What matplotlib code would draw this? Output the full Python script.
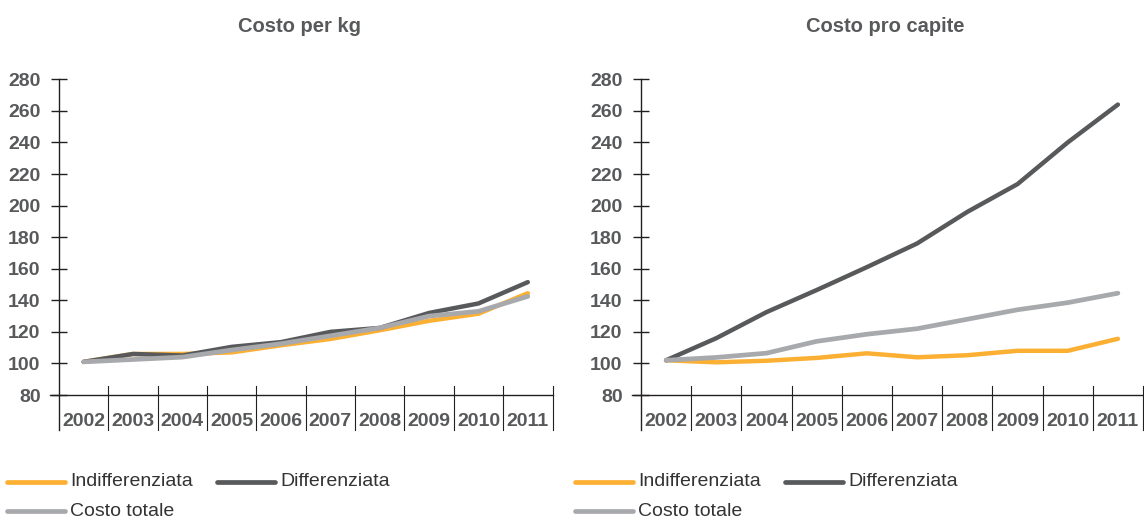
import matplotlib
matplotlib.use("Agg")
import matplotlib.pyplot as plt
from matplotlib.lines import Line2D

plt.rcParams['font.family'] = ['Liberation Sans', 'DejaVu Sans']

# data
years = ['2002', '2003', '2004', '2005', '2006', '2007', '2008', '2009', '2010', '2011']
series_names = ['Indifferenziata', 'Differenziata', 'Costo totale']
titles = ['Costo per kg', 'Costo pro capite']
yticks = [80, 100, 120, 140, 160, 180, 200, 220, 240, 260, 280]

kg_indiff = [101, 106, 106, 107, 111.5, 115.5, 121, 127, 131.5, 144.5]
kg_diff = [101, 106, 105, 110.5, 113.5, 120, 122.5, 132, 138, 151.5]
kg_tot = [101, 102.5, 104, 108.5, 112.5, 117.5, 122.5, 130, 133, 142.5]

pc_indiff = [102, 100.7, 101.7, 103.5, 106.4, 103.9, 105.2, 108, 108, 115.6]
pc_diff = [102, 116, 132.5, 146.5, 161, 176, 196, 213.6, 240, 264]
pc_tot = [102, 103.8, 106.5, 114, 118.5, 122, 128, 134, 138.5, 144.5]

col_orange = '#FBB034'
col_dark = '#58595B'
col_gray = '#A7A9AC'
col_text = '#58595B'
col_axis = '#231F20'

fig = plt.figure(figsize=(11.44, 5.2), dpi=100)

W, H = 1144.0, 520.0
# axes boxes in pixels: left, right, top, bottom
boxes = [(59, 552.5, 79.3, 395), (641, 1143, 79.3, 395)]
data = [(kg_indiff, kg_diff, kg_tot), (pc_indiff, pc_diff, pc_tot)]
title_x = [300, 885]
legend_dx = [0, 568]

for i in range(2):
    l, r, t, b = boxes[i]
    ax = fig.add_axes([l / W, 1 - b / H, (r - l) / W, (b - t) / H])
    ax.set_xlim(-0.5, len(years) - 0.5)
    ax.set_ylim(80, 280)
    for s in ax.spines.values():
        s.set_visible(False)

    px_per_unit = (b - t) / 200.0
    px_per_cat = (r - l) / len(years)
    ybot = 80 - 35 / px_per_unit
    ysep_top = 80 + 9 / px_per_unit
    xleft = -0.5 - 9 / px_per_cat

    # axis lines
    ax.plot([-0.5, -0.5], [ybot, 280], color=col_axis, lw=1.0, clip_on=False)
    ax.plot([xleft, len(years) - 0.5], [80, 80], color=col_axis, lw=1.0, clip_on=False)
    for k in range(1, len(years) + 1):
        ax.plot([k - 0.5, k - 0.5], [ybot, ysep_top], color=col_axis, lw=0.8, clip_on=False)

    # y ticks
    ax.set_yticks(yticks)
    ax.tick_params(axis='y', direction='inout', length=11.5, width=1.0, color=col_axis,
                   pad=7.5, labelsize=14, labelcolor=col_text)
    for lab in ax.get_yticklabels():
        lab.set_fontweight('bold')
    ax.set_xticks([])

    # year labels
    for k, yr in enumerate(years):
        ax.text(k, 80 - 26 / px_per_unit, yr, ha='center', va='center', fontsize=14,
                fontweight='bold', color=col_text, clip_on=False)

    x = list(range(len(years)))
    ind, dif, tot = data[i]
    kw = dict(solid_capstyle='round', solid_joinstyle='round', clip_on=False)
    ax.plot(x, ind, color=col_orange, lw=3.2, **kw)
    ax.plot(x, dif, color=col_dark, lw=3.2, **kw)
    ax.plot(x, tot, color=col_gray, lw=3.4, **kw)

    fig.text(title_x[i] / W, 1 - 27 / H, titles[i], ha='center', va='center',
             fontsize=14.5, fontweight='bold', color=col_text)

    # legend
    dx = legend_dx[i]
    items = [(col_orange, series_names[0], 7, 482), (col_dark, series_names[1], 217, 482),
             (col_gray, series_names[2], 7, 511)]
    for col, name, x0, y0 in items:
        fig.add_artist(Line2D([(x0 + dx) / W, (x0 + dx + 58) / W], [1 - y0 / H, 1 - y0 / H],
                              color=col, lw=3.4, solid_capstyle='round'))
        fig.text((x0 + dx + 63) / W, 1 - y0 / H, name, ha='left', va='center',
                 fontsize=14, color='#333333')

fig.savefig('out.png', dpi=100)
